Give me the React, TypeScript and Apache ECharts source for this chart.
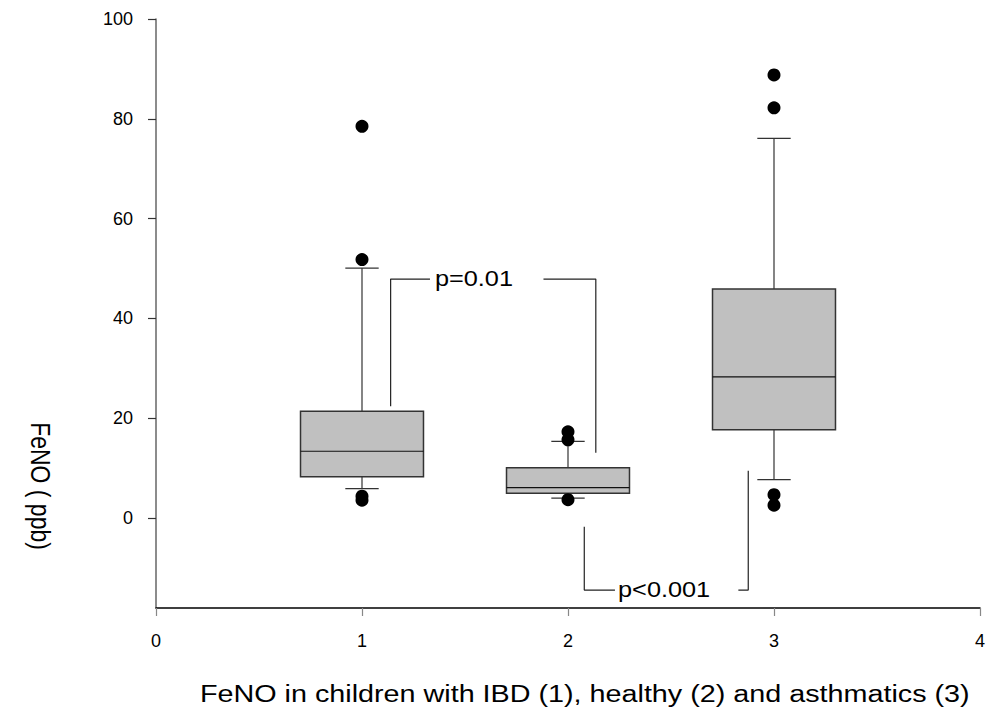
import React, { useEffect, useRef } from "react";
import * as echarts from "echarts";

// ---- data ----
const groups = [1, 2, 3];
const whiskerLow = [5.9, 4.0, 7.7];
const quartile1 = [8.3, 5.0, 17.7];
const medians = [13.4, 6.1, 28.3];
const quartile3 = [21.4, 10.1, 45.9];
const whiskerHigh = [50.1, 15.4, 76.1];
const outlierGroup = [1, 1, 1, 1, 2, 2, 2, 3, 3, 3, 3];
const outlierValue = [78.5, 51.8, 4.4, 3.6, 17.3, 15.7, 3.7, 88.8, 82.2, 4.7, 2.6];
const xTicks = [0, 1, 2, 3, 4];
const yTicks = [0, 20, 40, 60, 80, 100];
// significance brackets (data coordinates)
const bracketA1 = [[1.139, 22.4], [1.139, 47.9], [1.33, 47.9]];
const bracketA2 = [[1.881, 47.9], [2.135, 47.9], [2.135, 13.1]];
const bracketB1 = [[2.079, -1.7], [2.079, -14.4], [2.228, -14.4]];
const bracketB2 = [[2.827, -14.4], [2.875, -14.4], [2.875, 9.5]];
const pLabels = ["p=0.01", "p<0.001"];
const pLabelX = [1.354, 2.243];
const pLabelY = [47.9, -14.4];
const xTitle = "FeNO in children with IBD (1), healthy (2) and asthmatics (3)";
const yTitle = "FeNO ( ppb)";

const FONT = "'Liberation Sans', Arial, sans-serif";

export default function App() {
  const ref = useRef<HTMLDivElement>(null);
  useEffect(() => {
    document.body.style.margin = "0";
    const chart = echarts.init(ref.current!, undefined, { renderer: "svg" });
    const boxData = groups.map((g, i) => [g, whiskerLow[i], quartile1[i], medians[i], quartile3[i], whiskerHigh[i]]);
    const outliers = outlierGroup.map((g, i) => [g, outlierValue[i]]);
    const BOX_W = 0.597;
    const CAP_W = 0.162;
    const lineStyle = { stroke: "#333", lineWidth: 1.2 };
    const bracketSeries = [bracketA1, bracketA2, bracketB1, bracketB2].map((b) => ({
      type: "line",
      data: b,
      symbol: "none",
      lineStyle: { color: "#222", width: 1.2 },
      silent: true,
      z: 1,
    }));
    chart.setOption({
      animation: false,
      grid: { left: 156, right: 8, top: 19, bottom: 109, outerBoundsMode: "none", containLabel: false },
      xAxis: {
        type: "value",
        min: 0,
        max: 4,
        interval: 1,
        splitLine: { show: false },
        axisLine: { show: true, onZero: false, lineStyle: { color: "#000", width: 1.5 } },
        axisTick: { show: true, length: 8, lineStyle: { color: "#888", width: 1.2 } },
        axisLabel: { color: "#000", fontSize: 18, fontFamily: FONT, margin: 24,
          customValues: xTicks, showMinLabel: true, showMaxLabel: true },
      },
      yAxis: {
        type: "value",
        min: -18,
        max: 100,
        splitLine: { show: false },
        axisLine: { show: true, onZero: false, lineStyle: { color: "#666", width: 1.5 } },
        axisTick: { show: true, length: 8, customValues: yTicks, lineStyle: { color: "#333", width: 1.2 } },
        axisLabel: { color: "#000", fontSize: 18, fontFamily: FONT, margin: 23, customValues: yTicks },
      },
      series: [
        {
          type: "custom",
          data: boxData,
          encode: { x: 0, y: [1, 2, 3, 4, 5] },
          z: 2,
          renderItem: (params: any, api: any) => {
            const x = api.value(0);
            const lo = api.coord([x, api.value(1)]);
            const b1 = api.coord([x, api.value(2)]);
            const md = api.coord([x, api.value(3)]);
            const b3 = api.coord([x, api.value(4)]);
            const hi = api.coord([x, api.value(5)]);
            const bw = api.size([BOX_W, 0])[0];
            const cw = api.size([CAP_W, 0])[0];
            const cx = hi[0];
            return {
              type: "group",
              children: [
                { type: "line", shape: { x1: cx, y1: hi[1], x2: cx, y2: b3[1] }, style: lineStyle },
                { type: "line", shape: { x1: cx, y1: lo[1], x2: cx, y2: b1[1] }, style: lineStyle },
                { type: "line", shape: { x1: cx - cw / 2, y1: hi[1], x2: cx + cw / 2, y2: hi[1] }, style: lineStyle },
                { type: "line", shape: { x1: cx - cw / 2, y1: lo[1], x2: cx + cw / 2, y2: lo[1] }, style: lineStyle },
                {
                  type: "rect",
                  shape: { x: cx - bw / 2, y: b3[1], width: bw, height: b1[1] - b3[1] },
                  style: { fill: "#c0c0c0", stroke: "#333", lineWidth: 1.5 },
                },
                { type: "line", shape: { x1: cx - bw / 2, y1: md[1], x2: cx + bw / 2, y2: md[1] }, style: { stroke: "#111", lineWidth: 1.2 } },
              ],
            };
          },
        },
        {
          type: "scatter",
          data: outliers,
          symbol: "circle",
          symbolSize: 13,
          itemStyle: { color: "#000", opacity: 1 },
          z: 3,
        },
        ...bracketSeries,
        {
          type: "custom",
          data: pLabels.map((t, i) => [pLabelX[i], pLabelY[i]]),
          z: 4,
          renderItem: (params: any, api: any) => {
            const p = api.coord([api.value(0), api.value(1)]);
            return {
              type: "text",
              x: p[0],
              y: p[1],
              scaleX: 1.15,
              style: {
                text: pLabels[params.dataIndex],
                fill: "#000",
                font: `22px ${FONT}`,
                textAlign: "left",
                textVerticalAlign: "middle",
              },
            };
          },
        },
      ],
      graphic: [
        {
          type: "text",
          x: 200,
          y: 694,
          scaleX: 1.25,
          style: { text: xTitle, fill: "#000", font: `23px ${FONT}`, textAlign: "left", textVerticalAlign: "middle" },
        },
        {
          type: "text",
          x: 41,
          y: 486,
          rotation: -Math.PI / 2,
          scaleY: 1.2,
          style: { text: yTitle, fill: "#000", font: `23px ${FONT}`, textAlign: "center", textVerticalAlign: "middle" },
        },
      ],
    });
    return () => chart.dispose();
  }, []);
  return <div ref={ref} style={{ width: 988, height: 717 }} />;
}
